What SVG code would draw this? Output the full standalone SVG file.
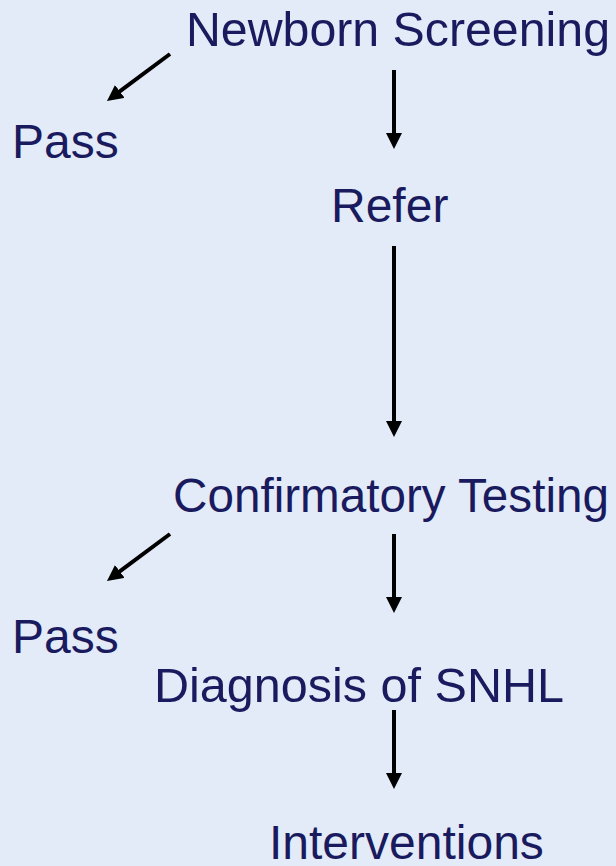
<svg xmlns="http://www.w3.org/2000/svg" width="616" height="866" viewBox="0 0 616 866">
  <style>
    .lbl { font-family: "Liberation Sans", Arial, sans-serif; font-size: 48px; fill: #1A1A5E; }
    .edge { stroke: #000; stroke-width: 4; fill: none; marker-end: url(#head); }
  </style>
  <defs>
    <marker id="head" markerUnits="userSpaceOnUse" markerWidth="17" markerHeight="17" refX="3" refY="8" orient="auto">
      <path d="M0,0 L16,8 L0,16 Z" fill="#000"/>
    </marker>
  </defs>
  <rect width="616" height="866" fill="#E3EBF8"/>

  <g id="connectors">
    <line class="edge" x1="394" y1="70" x2="394" y2="136"/>
    <line class="edge" x1="170" y1="54" x2="117.4" y2="93.2"/>
    <line class="edge" x1="394" y1="246" x2="394" y2="424"/>
    <line class="edge" x1="170" y1="534" x2="117.4" y2="573.2"/>
    <line class="edge" x1="394" y1="534" x2="394" y2="600"/>
    <line class="edge" x1="394" y1="710" x2="394" y2="776"/>
  </g>

  <g id="newborn-screening"><text class="lbl" x="186" y="46" textLength="424" lengthAdjust="spacingAndGlyphs">Newborn Screening</text></g>
  <g id="pass-1"><text class="lbl" x="12" y="158">Pass</text></g>
  <g id="refer"><text class="lbl" x="331" y="222">Refer</text></g>
  <g id="confirmatory-testing"><text class="lbl" x="173" y="512" textLength="436" lengthAdjust="spacingAndGlyphs">Confirmatory Testing</text></g>
  <g id="pass-2"><text class="lbl" x="12" y="653">Pass</text></g>
  <g id="diagnosis"><text class="lbl" x="154" y="702" textLength="410" lengthAdjust="spacingAndGlyphs">Diagnosis of SNHL</text></g>
  <g id="interventions"><text class="lbl" x="269" y="859">Interventions</text></g>
</svg>
